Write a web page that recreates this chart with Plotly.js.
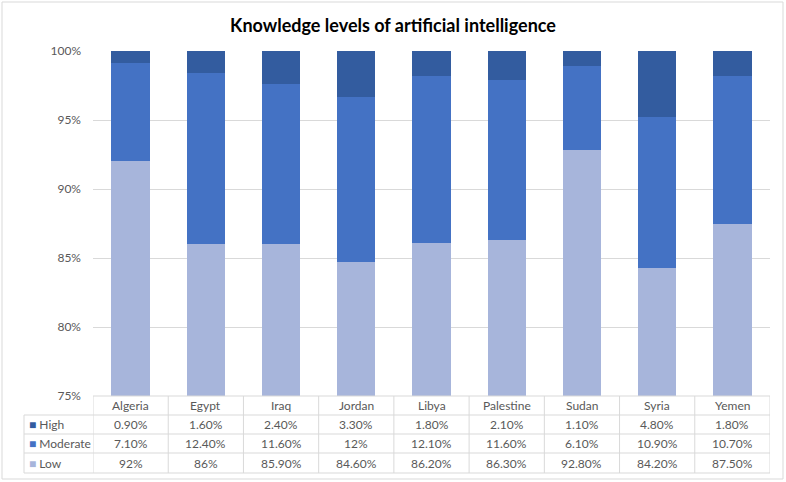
<!DOCTYPE html>
<html>
<head>
<meta charset="utf-8">
<script src="https://cdn.plot.ly/plotly-3.0.1.min.js"></script>
<style>
  body { margin: 0; background: #fff; }
  #chart { width: 786px; height: 482px; }
</style>
</head>
<body>
<div id="chart"></div>
<script>
// Knowledge levels of AI, by country (percent)
const countries = ['Algeria', 'Egypt', 'Iraq', 'Jordan', 'Libya', 'Palestine', 'Sudan', 'Syria', 'Yemen'];
const high = [0.9, 1.6, 2.4, 3.3, 1.8, 2.1, 1.1, 4.8, 1.8];
const moderate = [7.1, 12.4, 11.6, 12, 12.1, 11.6, 6.1, 10.9, 10.7];
const low = [92, 86, 85.9, 84.6, 86.2, 86.3, 92.8, 84.2, 87.5];
const levelNames = ['High', 'Moderate', 'Low'];
const levelColors = ['#335C9F', '#4472C4', '#A7B5DB'];
const yTicks = [75, 80, 85, 90, 95, 100];

const W = 786, H = 482;
const L = 93, R = 16, T = 51, B = 86;
const plotW = W - L - R, plotH = H - T - B;
// pixel -> paper helpers for the data table drawn under the plot
const px = x => (x - L) / plotW;
const py = y => (H - B - y) / plotH;

const fmt = v => (Number.isInteger(v) ? v : v.toFixed(2)) + '%';
const gray = '#595959';
const lineCol = '#D9D9D9';
const font = 'Lato, "Open Sans", sans-serif';

const traces = [
  { name: 'Low', y: low, color: levelColors[2] },
  { name: 'Moderate', y: moderate, color: levelColors[1] },
  { name: 'High', y: high, color: levelColors[0] },
].map(s => ({
  type: 'bar',
  name: s.name,
  x: countries,
  y: s.y,
  marker: { color: s.color, line: { width: 0 } },
  hoverinfo: 'skip',
}));

// table rows: header, High, Moderate, Low
const rowEdges = [396, 415, 434, 453, 473];
const shapes = [];
const annotations = [];

// outer chart border
shapes.push({ type: 'rect', xref: 'paper', yref: 'paper',
  x0: px(2), x1: px(783), y0: py(479), y1: py(2),
  line: { color: lineCol, width: 1 } });

// horizontal table lines
rowEdges.forEach((y, i) => {
  shapes.push({ type: 'line', xref: 'paper', yref: 'paper',
    x0: i === 0 ? 0 : px(24), x1: 1, y0: py(y), y1: py(y),
    line: { color: lineCol, width: 1 } });
});
// vertical table lines between categories
for (let k = 0; k <= countries.length; k++) {
  shapes.push({ type: 'line', xref: 'x', yref: 'paper',
    x0: k - 0.5, x1: k - 0.5, y0: py(rowEdges[4]), y1: py(rowEdges[0]),
    line: { color: lineCol, width: 1 } });
}
// left edge of legend column
shapes.push({ type: 'line', xref: 'paper', yref: 'paper',
  x0: px(24), x1: px(24), y0: py(rowEdges[4]), y1: py(rowEdges[1]),
  line: { color: lineCol, width: 1 } });

const rowMid = i => py((rowEdges[i] + rowEdges[i + 1]) / 2);

// category header cells
countries.forEach(c => {
  annotations.push({ xref: 'x', yref: 'paper', x: c, y: rowMid(0),
    xanchor: 'center', yanchor: 'middle',
    text: c, showarrow: false, font: { family: font, size: 12, color: gray } });
});

// value rows with legend keys
const rows = [high, moderate, low];
rows.forEach((vals, r) => {
  annotations.push({ xref: 'paper', yref: 'paper', x: px(27), y: rowMid(r + 1),
    xanchor: 'left', yanchor: 'middle', showarrow: false,
    text: '<span style="color:' + levelColors[r] + '">■</span> ' + levelNames[r],
    font: { family: font, size: 12, color: gray } });
  vals.forEach((v, k) => {
    annotations.push({ xref: 'x', yref: 'paper', x: countries[k], y: rowMid(r + 1),
      xanchor: 'center', yanchor: 'middle',
      text: fmt(v), showarrow: false, font: { family: font, size: 12, color: gray } });
  });
});

const layout = {
  width: W,
  height: H,
  margin: { l: L, r: R, t: T, b: B },
  paper_bgcolor: '#fff',
  plot_bgcolor: '#fff',
  barmode: 'stack',
  barnorm: 'percent',
  bargap: 0.49,
  showlegend: false,
  title: {
    text: '<b>Knowledge levels of artificial intelligence</b>',
    x: 0.5, xref: 'container', y: 1 - 26 / H, yref: 'container', yanchor: 'middle',
    font: { family: font, size: 18, color: '#000' },
  },
  xaxis: {
    type: 'category',
    showticklabels: false,
    showgrid: false,
    zeroline: false,
    showline: false,
    range: [-0.5, countries.length - 0.5],
  },
  yaxis: {
    range: [75, 100],
    tickvals: yTicks,
    ticktext: yTicks.map(t => t + '%'),
    showgrid: true,
    gridcolor: lineCol,
    zeroline: false,
    showline: false,
    ticks: '',
    ticklabelstandoff: 11,
    tickfont: { family: font, size: 12, color: gray },
  },
  shapes: shapes,
  annotations: annotations,
};

Plotly.newPlot('chart', traces, layout, { displayModeBar: false, staticPlot: true });
</script>
</body>
</html>
